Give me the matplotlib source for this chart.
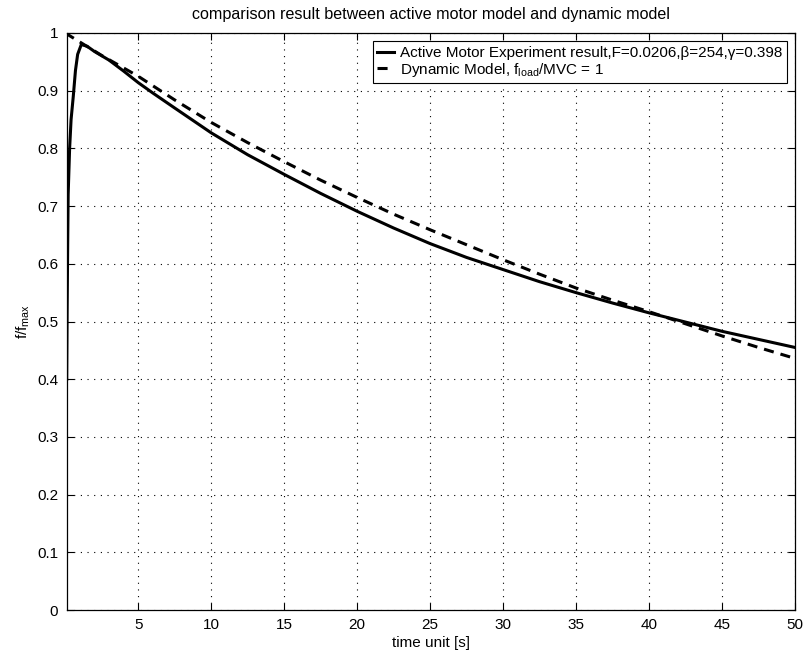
import matplotlib
matplotlib.use("Agg")
import matplotlib.pyplot as plt

plt.rcParams['font.family'] = ['Liberation Sans', 'DejaVu Sans']
plt.rcParams['mathtext.fontset'] = 'custom'
plt.rcParams['mathtext.rm'] = 'Liberation Sans'
plt.rcParams['mathtext.it'] = 'Liberation Sans:italic'

# Active motor experiment result (solid)
t_exp = [0.1, 0.13, 0.17, 0.2, 0.3, 0.4, 0.55, 0.7, 0.85, 1.1, 1.5, 2.0, 3.0, 4.0, 5.0, 6.0,
         7.5, 10, 12.5, 15, 17.5, 20, 22.5, 25, 27.5, 30, 32.5, 35, 37.5, 40, 42.5, 45, 47.5, 50]
f_exp = [0.40, 0.52, 0.64, 0.72, 0.80, 0.85, 0.89, 0.935, 0.963, 0.980, 0.977, 0.968, 0.953,
         0.934, 0.914, 0.896, 0.870, 0.827, 0.789, 0.755, 0.722, 0.691, 0.662, 0.635, 0.611,
         0.590, 0.569, 0.550, 0.532, 0.515, 0.499, 0.483, 0.469, 0.455]

# Dynamic model (dashed)
t_dyn = [0, 2.5, 5, 7.5, 10, 12.5, 15, 17.5, 20, 22.5, 25, 27.5, 30, 32.5, 35, 37.5, 40,
         42.5, 45, 47.5, 50]
f_dyn = [1.0, 0.961, 0.925, 0.884, 0.845, 0.810, 0.777, 0.745, 0.715, 0.686, 0.659, 0.633,
         0.607, 0.582, 0.558, 0.537, 0.517, 0.496, 0.475, 0.455, 0.436]

x_ticks = [5, 10, 15, 20, 25, 30, 35, 40, 45, 50]
y_ticks = [0, 0.1, 0.2, 0.3, 0.4, 0.5, 0.6, 0.7, 0.8, 0.9, 1]
y_ticklabels = ['0', '0.1', '0.2', '0.3', '0.4', '0.5', '0.6', '0.7', '0.8', '0.9', '1']

fs = 11
fig = plt.figure(figsize=(8.06, 6.59), dpi=100)
ax = fig.add_axes([66.7 / 806, 1 - 610 / 659, (795 - 66.7) / 806, (610 - 33) / 659])

ax.plot(t_exp, f_exp, color='black', lw=2.2, solid_joinstyle='round',
        label='Active Motor Experiment result,F=0.0206,\u03b2=254,\u03b3=0.398')
ax.plot(t_dyn, f_dyn, color='black', lw=2.2, linestyle=(0, (3.3, 2.3)),
        label=r'Dynamic Model, f$_{\mathrm{load}}$/MVC = 1')

ax.set_xlim(0.1, 50)
ax.set_ylim(0, 1)
ax.set_xticks(x_ticks)
ax.set_xticklabels([str(v) for v in x_ticks])
ax.set_yticks(y_ticks)
ax.set_yticklabels(y_ticklabels)
ax.tick_params(direction='in', length=5, width=0.8, top=True, right=True,
               labelsize=fs, colors='black', pad=6)
ax.grid(True, linestyle=(0, (1, 5)), color='black', linewidth=0.8)
for s in ax.spines.values():
    s.set_linewidth(0.9)
    s.set_color('black')

ax.set_title('comparison result between active motor model and dynamic model',
             fontsize=11.6, pad=10)
ax.set_xlabel('time unit [s]', fontsize=fs, labelpad=3)
ax.set_ylabel(r'f/f$_{\mathrm{max}}$', fontsize=fs, labelpad=4)

leg = ax.legend(loc='upper right', fontsize=fs, handlelength=1.1, handletextpad=0.35,
                borderaxespad=0.55, borderpad=0.3, labelspacing=0.05, fancybox=False,
                framealpha=1, edgecolor='black')
leg.get_frame().set_linewidth(0.8)

fig.savefig('out.png', dpi=100)
